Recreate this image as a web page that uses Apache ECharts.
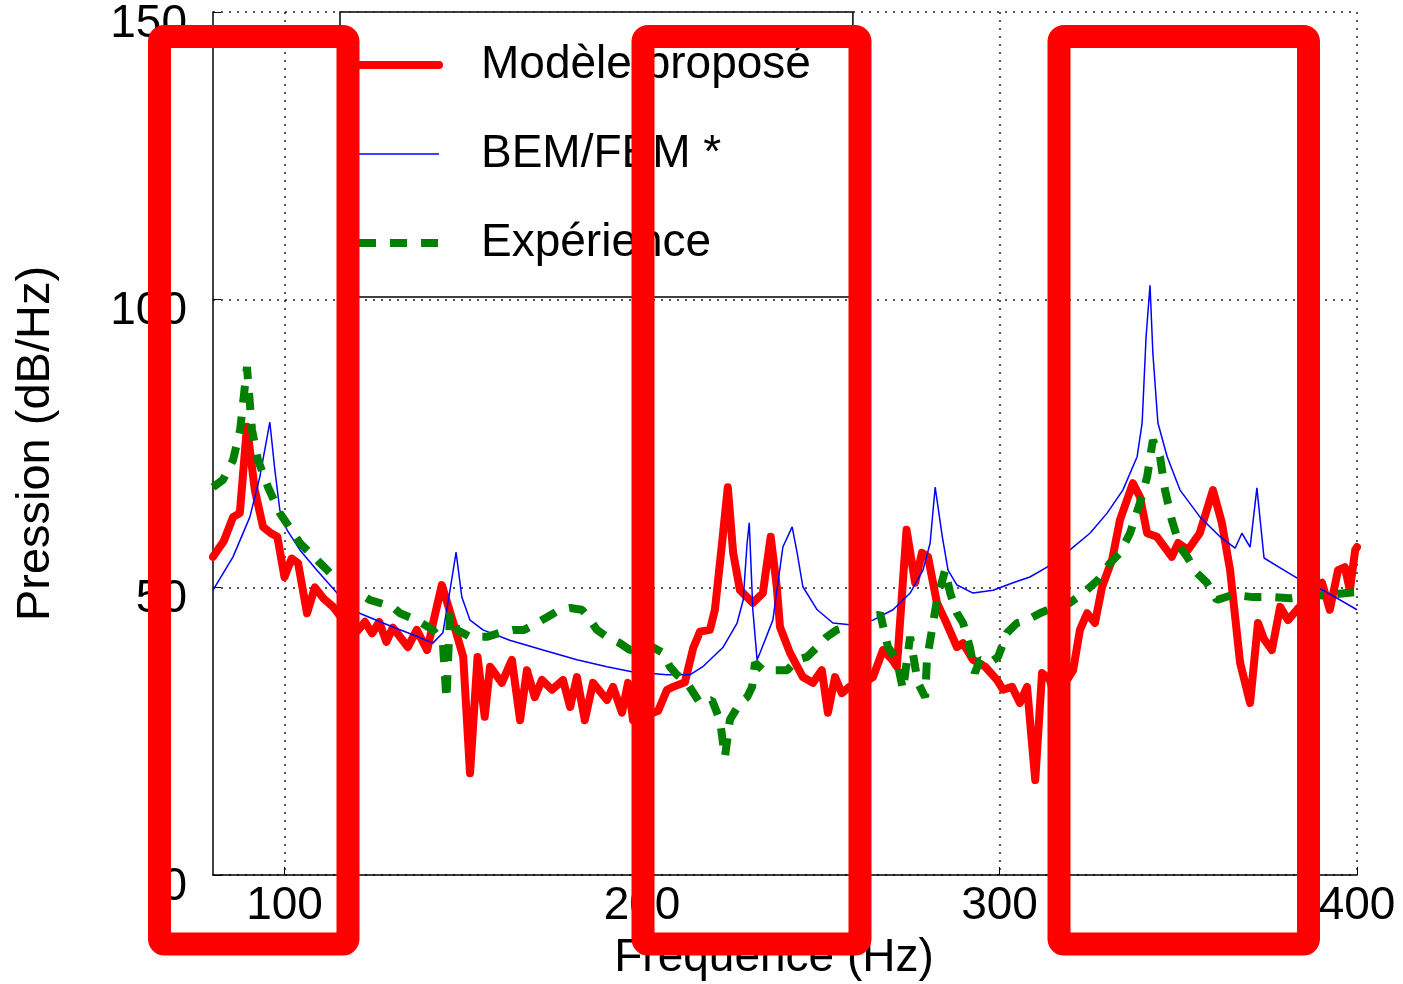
<!DOCTYPE html>
<html>
<head>
<meta charset="utf-8">
<script src="https://cdn.jsdelivr.net/npm/echarts@6/dist/echarts.min.js"></script>
<style>
html,body{margin:0;padding:0;background:#fff;}
#chart{width:1403px;height:984px;}
</style>
</head>
<body>
<div id="chart"></div>
<script>
// ---- Data ----
const seriesNames = ['Modèle proposé', 'BEM/FEM *', 'Expérience'];
const xTicks = [100, 200, 300, 400];
const yTicks = [0, 50, 100, 150];

const modelFreq = [80,83,85.6,87.5,89.5,91.7,94,96,98,100,102,103.8,106.3,108.5,111,113.6,116.4,118.5,120.5,122.5,124.5,126.5,128.5,130.3,132.3,134.5,137,139.9,142,144,147,150,151.9,154,156,157.5,160.8,163.6,165.9,167.8,170,172,174.8,177.9,179.9,181.8,184,186.3,190.2,191.9,194.4,196.1,197.5,200,202,204.5,207,208.7,212,214.3,216.2,219,220.4,222.4,224,225.5,227.4,231,233.8,236,237.7,238.6,241.4,245,247.8,250.3,252,254,255.9,258,261,264.6,267.4,270,271.3,274,276.4,278.3,280,282.5,284.8,288.1,289.8,292.6,296,299.3,301,303.5,305.7,307.7,310,311.9,314,316,318,320.6,322.5,324.5,326.7,328.7,331.5,333.7,337.3,339.3,341.3,344,348.2,350,352.7,356,359.7,362.2,364.5,367.3,370.1,372.3,374,376.2,378.5,380.7,383.2,386,388,390.2,392.4,394.7,396.6,398,399.5,400];
const modelDb = [55.3,58,62.2,62.9,77.9,66.9,60.5,59.5,58.8,51.8,55,54.2,45.5,50,48,46.6,44.3,43.5,42.5,44,42,44,40.5,43,41.4,39.6,42.6,39.1,45,50.4,44.3,37.9,17.7,37.9,27.5,36.2,33.4,37.4,26.9,35.6,30.9,33.9,32.2,33.9,29.2,34.4,26.9,33.4,30.4,32.7,28.2,33.4,26.9,30,28,28.5,32.2,32.7,33.5,39.4,42.3,42.6,46.1,57.7,67.4,56,49.5,47.3,49,58.8,50.1,43.1,38.6,34.4,33.4,35.6,28.2,34.4,31.6,32.7,33,34.4,39.1,37.4,36.2,60,50.8,56,55.3,47.3,44.3,39.6,40.3,37.4,36.2,33.9,32.2,32.7,29.9,32.7,16.5,35.1,34,30,33,35.6,42.6,45.5,43.8,50.1,54.8,61.7,68.1,65.7,59.4,58.8,55.3,57.7,56.5,59.4,66.9,61.2,53,36.9,29.9,43.8,41,39.1,46.6,44.3,46.1,48,50,50.8,46.1,53,53.5,49.5,56.5,57];

const bemFreq = [80,85.6,90.3,93.1,95.9,97.3,98.7,100.7,104.3,109,114.7,121,130.3,137,141.5,144.3,146.3,148,149.6,151.9,155.5,163,172.3,181.8,190.2,197.5,207,213.4,217,222.7,226.6,228.3,229.4,230,231,232.2,233,236.6,239.4,242,243.4,245,249,253.4,258.2,264.6,270.2,275,278.6,280.6,282,284,285.6,288.1,292.6,298.2,303.8,308.5,313.3,319.7,325.3,330.1,334.5,338.5,339.9,341,342.1,342.9,344.3,346.9,350.5,356.1,361.7,365.9,367.8,370.1,372,374,378.5,384.1,390.5,400];
const bemDb = [49.5,55.3,62.2,69.2,78.7,70.4,63.4,60,56.5,53,49,45.5,43.1,41.5,40.3,42.1,49.5,56.1,48.3,44.3,42.6,40.8,39.1,37.4,36.2,35.3,34.8,34.8,36.2,39.6,43.8,47.8,57.7,61.2,46.1,37.4,38.6,44.3,57,60.5,56,50.1,46.1,43.8,43.5,44.3,46.1,49,53,57.7,67.4,58.8,53,50.4,49,49.5,50.8,51.8,53.5,56.5,59.4,62.9,66.9,72.7,78.6,93.5,102.5,90.7,78.6,72.7,66.9,62.2,58.8,56.8,59.4,57,67.3,55.1,53.4,51.3,49.5,46.1];

const expFreq = [80,82.8,85.6,87.6,89.5,90.9,92.6,95.4,98.7,104.3,110,114.7,123.9,130.3,132.3,137,141.5,144.3,145.3,146.3,148.3,151.9,156.6,160.3,163.9,167,170.6,173.4,177,179.9,183.2,185,187.4,190.2,193.8,196.6,200,203,205.9,207.8,209.8,212.6,216.2,219.6,221.8,223.2,224.6,227.4,229.4,230.8,231.6,233.8,237.8,240.6,243.4,246.2,249,251.7,254.5,257.3,261,264.6,266.6,268.8,271.3,273,275,276.4,277.2,279.2,279.7,281.1,282.5,284.8,286.2,288.1,289.8,291.7,293.1,294.5,297.3,299.6,302.1,304.9,307.7,311.3,315,319.7,323.4,327.6,330.9,333.7,336.5,339.3,341.3,342.9,344.9,346.3,348.2,350.5,352.5,355.2,358,360.8,365.3,370.9,376.5,381.3,386,392.4,400];
const expDb = [67.4,68.7,72.1,77.4,88.3,77.4,72.1,67.4,62.9,57.7,54.2,51.3,47.8,46.6,45.5,44.3,42.6,40.3,30.5,45.5,42.6,41.4,41.4,42.1,42.6,42.6,43.8,44.8,46.1,46.4,46.1,44.8,42.6,41.4,40.3,39.1,39.5,39.6,38.6,36.2,34.8,33.4,29.9,30.4,26.9,20.5,27,29.9,30.9,32.7,36.9,35.6,35.6,35.6,37.4,37.9,39.6,41.4,42.6,43.1,44,43.8,45.5,39.6,37.4,32.2,41.4,36.2,33.4,30.9,37.4,42.6,47.8,53,49,45.5,43.8,39.6,35.1,37.4,36.9,37.9,42.1,43.8,44.3,45.5,46.5,47.3,49,51.3,54.2,56,59.4,64.7,69.2,75.6,72.7,66.9,61.7,57,55.3,52.5,50.8,47.8,48.7,48.3,48.3,48.1,48.5,48.7,49.2];

function pairs(xs, ys) { return xs.map((x, i) => [x, ys[i]]); }

const FONT = '"Liberation Sans", Arial, sans-serif';
const COLORS = ['#ff0000', '#0000ff', '#008000'];
const chart = echarts.init(document.getElementById('chart'), null, {renderer: 'canvas'});

const gridLine = {show: true, lineStyle: {color: '#222', width: 1.5, type: [2, 6]}};

// annotation rectangles (highlight boxes drawn on top of the figure)
function box(x0, x1) {
  return {
    type: 'rect', z: 100,
    shape: {x: x0, y: 36.5, width: x1 - x0, height: 907.5, r: 5},
    style: {fill: null, stroke: '#ff0000', lineWidth: 23}
  };
}

chart.setOption({
  animation: false,
  backgroundColor: '#fff',
  grid: {left: 213, right: 46, top: 12, bottom: 109, containLabel: false, outerBoundsMode: 'none'},
  xAxis: {
    type: 'value', min: 80, max: 400,
    name: 'Frequence (Hz)', nameLocation: 'middle', nameGap: 60,
    nameTextStyle: {fontFamily: FONT, fontSize: 46, color: '#000', padding: [0, 22, 0, 0]},
    axisLine: {show: true, onZero: false, lineStyle: {color: '#000', width: 1.5}},
    axisTick: {show: true, inside: true, length: 8, customValues: xTicks, lineStyle: {color: '#000'}},
    axisLabel: {customValues: xTicks, fontFamily: FONT, fontSize: 46, color: '#000', margin: 8, hideOverlap: false},
    splitLine: gridLine
  },
  yAxis: {
    type: 'value', min: 0, max: 150, interval: 50,
    name: 'Pression (dB/Hz)', nameLocation: 'middle', nameGap: 153, nameRotate: 90,
    nameTextStyle: {fontFamily: FONT, fontSize: 47, color: '#000'},
    axisLine: {show: true, lineStyle: {color: '#000', width: 1.5}},
    axisTick: {show: true, inside: true, length: 8, lineStyle: {color: '#000'}},
    axisLabel: {fontFamily: FONT, fontSize: 46, color: '#000', margin: 26, verticalAlign: 'top', lineHeight: 24, hideOverlap: false,
      formatter: v => (yTicks.indexOf(v) >= 0 ? String(v) : '')},
    splitLine: gridLine
  },
  legend: {
    orient: 'vertical', left: 340, top: 12,
    padding: [30, 42, 31, 15],
    itemWidth: 80, itemHeight: 20, itemGap: 43,
    backgroundColor: '#fff', borderColor: '#000', borderWidth: 1.5,
    textStyle: {fontFamily: FONT, fontSize: 46, color: '#000', padding: [0, 0, 0, 37]},
    data: [
      {name: seriesNames[0], itemStyle: {opacity: 0}, lineStyle: {color: COLORS[0], width: 8, type: 'solid'}},
      {name: seriesNames[1], itemStyle: {opacity: 0}, lineStyle: {color: COLORS[1], width: 1.5, type: 'solid'}},
      {name: seriesNames[2], itemStyle: {opacity: 0}, lineStyle: {color: COLORS[2], width: 8, type: [17, 14]}}
    ]
  },
  series: [
    {name: seriesNames[0], type: 'line', data: pairs(modelFreq, modelDb), showSymbol: false, symbol: 'none',
     lineStyle: {color: COLORS[0], width: 8, join: 'round', cap: 'round'}, itemStyle: {color: COLORS[0]}, z: 2},
    {name: seriesNames[1], type: 'line', data: pairs(bemFreq, bemDb), showSymbol: false, symbol: 'none',
     lineStyle: {color: COLORS[1], width: 1.5}, itemStyle: {color: COLORS[1]}, z: 3},
    {name: seriesNames[2], type: 'line', data: pairs(expFreq, expDb), showSymbol: false, symbol: 'none',
     lineStyle: {color: COLORS[2], width: 8, type: [17, 14]}, itemStyle: {color: COLORS[2]}, z: 4}
  ],
  graphic: [box(159.5, 348), box(643, 860), box(1059, 1308.5)]
});
</script>
</body>
</html>
